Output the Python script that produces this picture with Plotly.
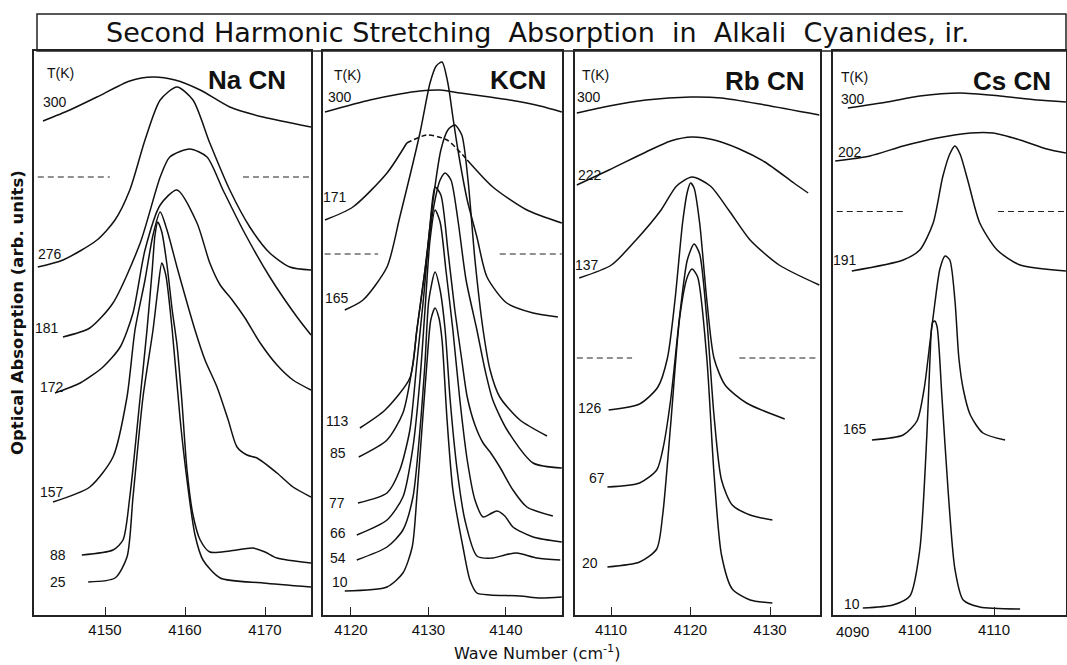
import plotly.graph_objects as go

W, H = 1067, 665

# ---------------- NaCN (wave number cm^-1, absorption arb. units) ----------------
na300_x = [4142.25, 4145.6, 4149.0, 4153.1, 4156.0, 4158.75, 4161.9, 4165.6, 4169.75, 4175.75]
na300_y = [49.4, 50.5, 51.8, 53.4, 53.8, 53.5, 52.5, 50.8, 49.8, 48.8]
na276_x = [4141.6, 4144.75, 4149.0, 4151.25, 4153.1, 4155.0, 4156.9, 4159.0, 4161.0, 4163.1, 4165.6, 4168.1, 4170.6, 4173.1, 4175.75]
na276_y = [34.8, 35.5, 37.5, 39.5, 42.5, 47.5, 51.5, 52.8, 51.5, 47.2, 42.5, 38.8, 36.2, 34.8, 34.5]
na181_x = [4144.75, 4148.1, 4151.0, 4154.4, 4156.9, 4158.1, 4160.6, 4162.75, 4164.75, 4167.25, 4170.6, 4174.0, 4175.75]
na181_y = [27.8, 28.7, 31.2, 37.2, 43.8, 45.8, 46.6, 45.8, 42.5, 38.5, 33.8, 29.8, 28.0]
na172_x = [4143.75, 4146.9, 4149.75, 4151.9, 4153.5, 4155.0, 4156.9, 4159.0, 4161.5, 4163.1, 4164.4, 4165.9, 4167.5, 4169.4, 4171.5, 4173.5, 4175.75]
na172_y = [22.2, 23.2, 24.8, 26.8, 30.2, 36.5, 41.0, 42.5, 39.2, 35.2, 33.0, 31.5, 29.7, 27.2, 25.0, 23.5, 22.5]
na157_x = [4143.5, 4148.1, 4151.0, 4152.75, 4153.75, 4155.0, 4156.0, 4156.9, 4157.75, 4159.1, 4161.25, 4162.5, 4164.0, 4165.4, 4166.5, 4167.75, 4169.0, 4171.5, 4173.5, 4175.75]
na157_y = [11.3, 12.8, 15.8, 21.8, 28.5, 33.5, 38.0, 40.3, 38.5, 34.5, 28.5, 25.5, 22.8, 19.5, 16.8, 16.0, 15.7, 14.2, 12.8, 11.8]
na88_x = [4147.1, 4151.0, 4152.25, 4153.1, 4154.4, 4155.25, 4155.9, 4156.25, 4156.6, 4157.1, 4157.75, 4158.4, 4159.0, 4159.6, 4160.25, 4161.0, 4161.9, 4163.1, 4165.6, 4168.5, 4170.0, 4171.5, 4175.75]
na88_y = [6.0, 6.5, 7.5, 11.8, 21.8, 28.5, 34.5, 38.0, 39.3, 38.3, 35.0, 30.5, 27.0, 21.5, 14.5, 10.0, 7.5, 6.3, 6.4, 6.7, 6.3, 5.7, 5.2]
na25_x = [4147.9, 4151.25, 4152.75, 4153.5, 4154.75, 4156.0, 4156.6, 4157.1, 4157.6, 4158.4, 4159.4, 4160.25, 4161.25, 4162.25, 4164.4, 4169.75, 4175.75]
na25_y = [3.3, 3.7, 5.8, 11.8, 21.8, 28.5, 32.5, 35.2, 34.0, 28.5, 19.5, 13.5, 8.0, 5.5, 3.7, 3.2, 2.8]
na_dash_y = 43.8
na_dash_left = [4141.6, 4150.6]
na_dash_right = [4167.25, 4175.75]

# ---------------- KCN ----------------
k300_x = [4116.65, 4122.45, 4126.3, 4128.9, 4131.5, 4134.1, 4137.9, 4140.5, 4144.4, 4147.2]
k300_y = [50.3, 51.5, 52.1, 52.4, 52.5, 52.2, 51.8, 51.5, 50.9, 50.3]
k171_x = [4116.65, 4120.25, 4124.65, 4127.2, 4129.8, 4132.4, 4135.0, 4138.3, 4142.7, 4147.2]
k171_y = [39.5, 40.8, 44.2, 47.2, 48.0, 47.5, 45.5, 42.8, 40.5, 39.2]
k171_dashed_part = (3, 7)   # index span of the dashed top of the 171 K curve
k165_x = [4119.2, 4121.55, 4124.65, 4126.3, 4128.9, 4130.2, 4131.0, 4131.75, 4132.5, 4133.15, 4133.8, 4135.0, 4136.25, 4137.55, 4140.1, 4143.5, 4146.7]
k165_y = [30.5, 31.5, 34.8, 39.8, 48.2, 53.2, 54.9, 55.3, 53.2, 49.8, 46.5, 41.5, 37.8, 33.8, 31.2, 30.2, 29.8]
k113_x = [4121.15, 4124.4, 4127.6, 4128.5, 4129.55, 4130.6, 4131.6, 4132.5, 4133.4, 4134.3, 4135.1, 4136.0, 4137.05, 4137.95, 4139.2, 4141.8, 4145.3]
k113_y = [18.7, 20.5, 23.7, 28.5, 34.5, 41.5, 46.5, 48.5, 49.0, 48.0, 43.5, 35.5, 28.5, 24.5, 21.8, 19.5, 17.9]
k85_x = [4121.0, 4124.65, 4126.7, 4128.0, 4128.5, 4129.55, 4130.6, 4131.5, 4132.15, 4132.9, 4133.8, 4134.85, 4136.25, 4137.3, 4138.3, 4140.15, 4143.5, 4147.2]
k85_y = [15.8, 17.5, 20.2, 25.2, 28.5, 34.5, 40.5, 43.5, 44.2, 43.5, 39.5, 33.5, 28.5, 24.5, 21.5, 18.5, 15.2, 14.7]
k77_x = [4120.9, 4124.65, 4126.3, 4127.6, 4128.5, 4129.4, 4130.2, 4130.85, 4131.6, 4132.5, 4133.4, 4134.3, 4135.0, 4136.0, 4137.05, 4137.95, 4139.2, 4140.9, 4142.7, 4146.05]
k77_y = [11.2, 12.2, 14.5, 18.5, 25.2, 32.0, 39.0, 42.8, 42.0, 36.5, 30.5, 25.5, 21.8, 19.0, 17.2, 16.3, 14.8, 12.5, 10.8, 9.9]
k66_x = [4120.75, 4124.65, 4126.7, 4128.0, 4128.9, 4129.55, 4130.2, 4130.85, 4131.5, 4132.25, 4133.15, 4134.05, 4135.0, 4136.0, 4137.05, 4137.95, 4138.85, 4139.85, 4140.9, 4143.5, 4147.2]
k66_y = [8.0, 9.5, 11.8, 16.8, 23.5, 30.5, 37.5, 40.5, 39.3, 34.5, 28.5, 21.5, 15.5, 11.5, 9.8, 10.1, 10.4, 9.9, 8.8, 7.8, 7.3]
k54_x = [4120.75, 4124.65, 4126.7, 4128.0, 4128.9, 4129.55, 4130.05, 4130.85, 4131.5, 4132.15, 4132.8, 4133.7, 4134.7, 4136.25, 4138.3, 4139.85, 4141.4, 4144.0, 4147.0]
k54_y = [5.5, 6.8, 8.5, 11.8, 18.5, 25.2, 31.5, 34.3, 32.5, 28.5, 21.5, 14.5, 9.5, 5.9, 5.7, 6.0, 6.2, 5.7, 5.5]
k10_x = [4119.2, 4124.65, 4126.7, 4127.9, 4128.5, 4129.15, 4129.8, 4130.3, 4130.85, 4131.35, 4131.75, 4132.4, 4133.15, 4134.45, 4135.35, 4136.25, 4137.95, 4141.8, 4144.4, 4147.2]
k10_y = [2.4, 2.8, 4.2, 6.8, 11.8, 18.5, 25.2, 29.5, 30.7, 29.7, 27.5, 19.5, 12.5, 6.8, 3.5, 2.2, 2.0, 1.9, 1.7, 1.8]
k_dash_y = 36.1
k_dash_left = [4116.6, 4123.5]
k_dash_right = [4139.2, 4147.2]

# ---------------- RbCN ----------------
rb300_x = [4105.7, 4109.75, 4114.4, 4120.0, 4123.9, 4129.35, 4136.2]
rb300_y = [50.2, 50.9, 51.5, 51.8, 51.7, 51.0, 50.0]
rb222_x = [4105.7, 4109.75, 4114.4, 4117.5, 4120.2, 4123.0, 4126.15, 4129.35, 4133.0, 4134.8]
rb222_y = [43.0, 44.5, 46.3, 47.4, 47.8, 47.5, 46.6, 45.3, 43.2, 42.2]
rb137_x = [4106.0, 4110.05, 4113.15, 4116.3, 4118.25, 4120.2, 4122.5, 4124.8, 4127.5, 4131.15, 4136.2]
rb137_y = [33.7, 35.0, 37.5, 40.5, 42.9, 43.8, 42.9, 40.5, 37.5, 35.0, 33.0]
rb126_x = [4109.7, 4113.6, 4115.9, 4117.1, 4118.05, 4119.0, 4119.6, 4120.0, 4120.45, 4121.15, 4122.05, 4122.95, 4124.35, 4127.05, 4131.85]
rb126_y = [20.5, 21.1, 22.8, 25.7, 31.5, 39.2, 42.3, 43.2, 42.7, 39.2, 31.5, 25.7, 23.0, 21.2, 19.6]
rb67_x = [4109.55, 4113.6, 4115.75, 4116.5, 4117.5, 4118.65, 4119.6, 4120.45, 4121.15, 4122.05, 4122.95, 4123.9, 4125.25, 4127.5, 4130.3]
rb67_y = [12.8, 13.2, 14.5, 16.5, 21.5, 30.0, 35.5, 37.1, 36.1, 29.6, 20.0, 13.5, 11.0, 10.0, 9.5]
rb20_x = [4109.55, 4113.6, 4115.75, 4116.5, 4117.5, 4118.65, 4119.6, 4120.2, 4120.9, 4122.05, 4122.95, 4123.9, 4125.25, 4127.5, 4130.3]
rb20_y = [4.8, 5.3, 6.6, 10.0, 19.0, 29.8, 33.8, 34.6, 33.8, 25.7, 14.2, 6.0, 2.6, 1.5, 1.2]
rb_dash_y = 25.7
rb_dash_left = [4105.7, 4112.65]
rb_dash_right = [4126.15, 4136.2]

# ---------------- CsCN ----------------
cs300_x = [4091.5, 4096.45, 4100.6, 4105.7, 4110.75, 4115.45, 4119.1]
cs300_y = [50.7, 51.3, 51.9, 52.2, 51.9, 51.5, 51.3]
cs202_x = [4089.9, 4094.3, 4098.5, 4102.8, 4107.0, 4109.9, 4113.3, 4116.7, 4119.1]
cs202_y = [45.4, 45.9, 46.9, 47.7, 48.2, 48.2, 47.5, 46.6, 46.2]
cs191_x = [4092.0, 4098.5, 4100.6, 4102.3, 4103.5, 4104.4, 4105.05, 4105.7, 4106.7, 4108.2, 4110.4, 4113.3, 4119.1]
cs191_y = [34.4, 35.5, 36.5, 39.2, 43.8, 46.1, 46.9, 46.1, 43.4, 39.2, 36.5, 35.0, 34.4]
cs165_x = [4094.55, 4098.5, 4100.25, 4101.15, 4101.9, 4102.5, 4103.15, 4103.8, 4104.4, 4105.05, 4105.55, 4106.1, 4107.0, 4108.6, 4111.4]
cs165_y = [17.5, 18.0, 19.4, 22.6, 27.3, 31.1, 34.6, 35.9, 35.5, 31.5, 25.7, 22.6, 20.0, 18.2, 17.5]
cs10_x = [4093.4, 4097.2, 4099.35, 4100.6, 4101.5, 4101.9, 4102.2, 4102.5, 4102.8, 4103.4, 4104.2, 4105.05, 4106.1, 4108.2, 4113.3]
cs10_y = [0.7, 1.0, 1.9, 6.5, 18.0, 25.7, 29.2, 29.4, 28.8, 21.9, 12.3, 4.6, 1.5, 0.8, 0.6]
cs_dash_y = 40.35
cs_dash_left = [4090.1, 4098.7]
cs_dash_right = [4110.5, 4119.1]

# tick labels
na_ticks = [4150, 4160, 4170]
k_ticks = [4120, 4130, 4140]
rb_ticks = [4110, 4120, 4130]
cs_ticks = [4100, 4110]
cs_edge_tick = "4090"

temps_na = ["300", "276", "181", "172", "157", "88", "25"]
temps_k = ["300", "171", "165", "113", "85", "77", "66", "54", "10"]
temps_rb = ["300", "222", "137", "126", "67", "20"]
temps_cs = ["300", "202", "191", "165", "10"]

# ---------------- layout geometry ----------------
panels = [
    dict(name="Na CN", px=(34, 311), rng=(4141.125, 4175.75), ticks=na_ticks,
         curves=[(na300_x, na300_y), (na276_x, na276_y), (na181_x, na181_y), (na172_x, na172_y),
                 (na157_x, na157_y), (na88_x, na88_y), (na25_x, na25_y)],
         dash=(na_dash_y, na_dash_left, na_dash_right), temps=temps_na,
         lab_pos=[(4143.75, 51.3), (4143.1, 36.1), (4142.75, 28.7), (4143.4, 22.8), (4143.4, 12.3), (4144.1, 6.0), (4144.1, 3.3)],
         tk=(4144.4, 54.2), title_pos=(4167.75, 53.5)),
    dict(name="KCN", px=(323, 562), rng=(4116.39, 4147.23), ticks=k_ticks,
         curves=[(k300_x, k300_y), (k165_x, k165_y), (k113_x, k113_y), (k85_x, k85_y),
                 (k77_x, k77_y), (k66_x, k66_y), (k54_x, k54_y), (k10_x, k10_y)],
         dash=(k_dash_y, k_dash_left, k_dash_right), temps=temps_k,
         lab_pos=[(4118.6, 51.8), (4117.95, 41.8), (4118.2, 31.7), (4118.2, 19.4), (4118.3, 16.2), (4118.2, 11.2), (4118.3, 8.2), (4118.3, 5.7), (4118.6, 3.3)],
         tk=(4119.5, 54.0), title_pos=(4141.55, 53.5)),
    dict(name="Rb CN", px=(575, 820), rng=(4105.47, 4136.29), ticks=rb_ticks,
         curves=[(rb300_x, rb300_y), (rb222_x, rb222_y), (rb137_x, rb137_y), (rb126_x, rb126_y),
                 (rb67_x, rb67_y), (rb20_x, rb20_y)],
         dash=(rb_dash_y, rb_dash_left, rb_dash_right), temps=temps_rb,
         lab_pos=[(4107.2, 51.8), (4107.4, 44.0), (4107.0, 35.0), (4107.4, 20.7), (4108.2, 13.7), (4107.4, 5.2)],
         tk=(4108.0, 54.0), title_pos=(4129.35, 53.4)),
    dict(name="Cs CN", px=(833, 1066), rng=(4089.62, 4119.11), ticks=cs_ticks,
         curves=[(cs300_x, cs300_y), (cs202_x, cs202_y), (cs191_x, cs191_y), (cs165_x, cs165_y), (cs10_x, cs10_y)],
         dash=(cs_dash_y, cs_dash_left, cs_dash_right), temps=temps_cs,
         lab_pos=[(4092.15, 51.6), (4091.8, 46.3), (4091.1, 35.5), (4092.4, 18.6), (4092.0, 1.1)],
         tk=(4092.4, 53.8), title_pos=(4112.3, 53.4)),
]

TOP, BOT = 51, 615
ydom = [1 - BOT / H, 1 - TOP / H]
YMAX = 56.4

INK = "#111111"
FONT = "Liberation Sans, Arial, sans-serif"
fig = go.Figure()
LINE = dict(color=INK, width=1.5, shape="spline", smoothing=0.7)
DASH = dict(color="#222222", width=1.1, dash="6px,4px")
LABEL_FONT = dict(family=FONT, size=14, color=INK)
annotations = []


def add_line(x, y, xa, ya, style):
    fig.add_trace(go.Scatter(x=x, y=y, mode="lines", line=style, xaxis=xa, yaxis=ya,
                             hoverinfo="skip", showlegend=False))


for i, p in enumerate(panels, start=1):
    xa = "x" if i == 1 else f"x{i}"
    ya = "y" if i == 1 else f"y{i}"
    for cx, cy in p["curves"]:
        add_line(cx, cy, xa, ya, LINE)
    if i == 2:
        a, b = k171_dashed_part
        add_line(k171_x[:a + 1], k171_y[:a + 1], xa, ya, LINE)
        add_line(k171_x[a:b], k171_y[a:b], xa, ya, dict(LINE, dash="5px,3px"))
        add_line(k171_x[b - 1:], k171_y[b - 1:], xa, ya, LINE)
    dy, dl, dr = p["dash"]
    for seg in (dl, dr):
        add_line(seg, [dy, dy], xa, ya, DASH)
    for t, (lx, ly) in zip(p["temps"], p["lab_pos"]):
        annotations.append(dict(x=lx, y=ly, xref=xa, yref=ya, text=t, showarrow=False,
                                font=LABEL_FONT, xanchor="center", yanchor="middle"))
    annotations.append(dict(x=p["tk"][0], y=p["tk"][1], xref=xa, yref=ya, text="T(K)", showarrow=False,
                            font=LABEL_FONT, xanchor="center", yanchor="middle"))
    annotations.append(dict(x=p["title_pos"][0], y=p["title_pos"][1], xref=xa, yref=ya, text=f"<b>{p['name']}</b>",
                            showarrow=False, font=dict(family=FONT, size=26, color=INK),
                            xanchor="center", yanchor="middle"))
    axis_common = dict(showline=True, linecolor="#222222", linewidth=1.5, mirror=True, showgrid=False, zeroline=False)
    fig.update_layout(**{
        ("xaxis" if i == 1 else f"xaxis{i}"): dict(
            domain=[p["px"][0] / W, p["px"][1] / W], range=list(p["rng"]), tickmode="array",
            tickvals=p["ticks"], ticktext=[str(v) for v in p["ticks"]], ticks="inside", ticklen=8,
            tickcolor="#222222", tickwidth=1.2,
            tickfont=dict(family=FONT, size=15, color=INK),
            anchor=ya, **axis_common),
        ("yaxis" if i == 1 else f"yaxis{i}"): dict(
            domain=ydom, range=[0, YMAX], showticklabels=False, ticks="", anchor=xa, **axis_common),
    })

# 4090 label sits just right of the Cs CN panel's left edge
annotations.append(dict(x=852 / W, y=1 - 631 / H, xref="paper", yref="paper", text=cs_edge_tick, showarrow=False,
                        xanchor="center", yanchor="middle", font=dict(family=FONT, size=15, color=INK)))
# title box
fig.add_shape(type="rect", xref="paper", yref="paper", x0=37 / W, x1=1066 / W, y0=1 - TOP / H, y1=1 - 14 / H,
              line=dict(color="#222222", width=1.5))
annotations.append(dict(x=537 / W, y=1 - 33 / H, xref="paper", yref="paper",
                        text="Second Harmonic Stretching  Absorption  in  Alkali  Cyanides, ir.",
                        xanchor="center", yanchor="middle",
                        showarrow=False, font=dict(family="DejaVu Sans, sans-serif", size=27, color=INK)))
annotations.append(dict(x=18 / W, y=1 - 313 / H, xref="paper", yref="paper", text="<b>Optical Absorption (arb. units)</b>",
                        textangle=-90, xanchor="center", yanchor="middle", showarrow=False,
                        font=dict(family="DejaVu Sans, sans-serif", size=16.5, color=INK)))
annotations.append(dict(x=537 / W, y=1 - 652 / H, xref="paper", yref="paper", text="Wave Number (cm<sup>-1</sup>)",
                        xanchor="center", yanchor="middle", showarrow=False,
                        font=dict(family="DejaVu Sans, sans-serif", size=16, color=INK)))

fig.update_layout(width=W, height=H, margin=dict(l=0, r=0, t=0, b=0), paper_bgcolor="white",
                  plot_bgcolor="white", annotations=annotations, showlegend=False)
fig.write_html("out.html")
